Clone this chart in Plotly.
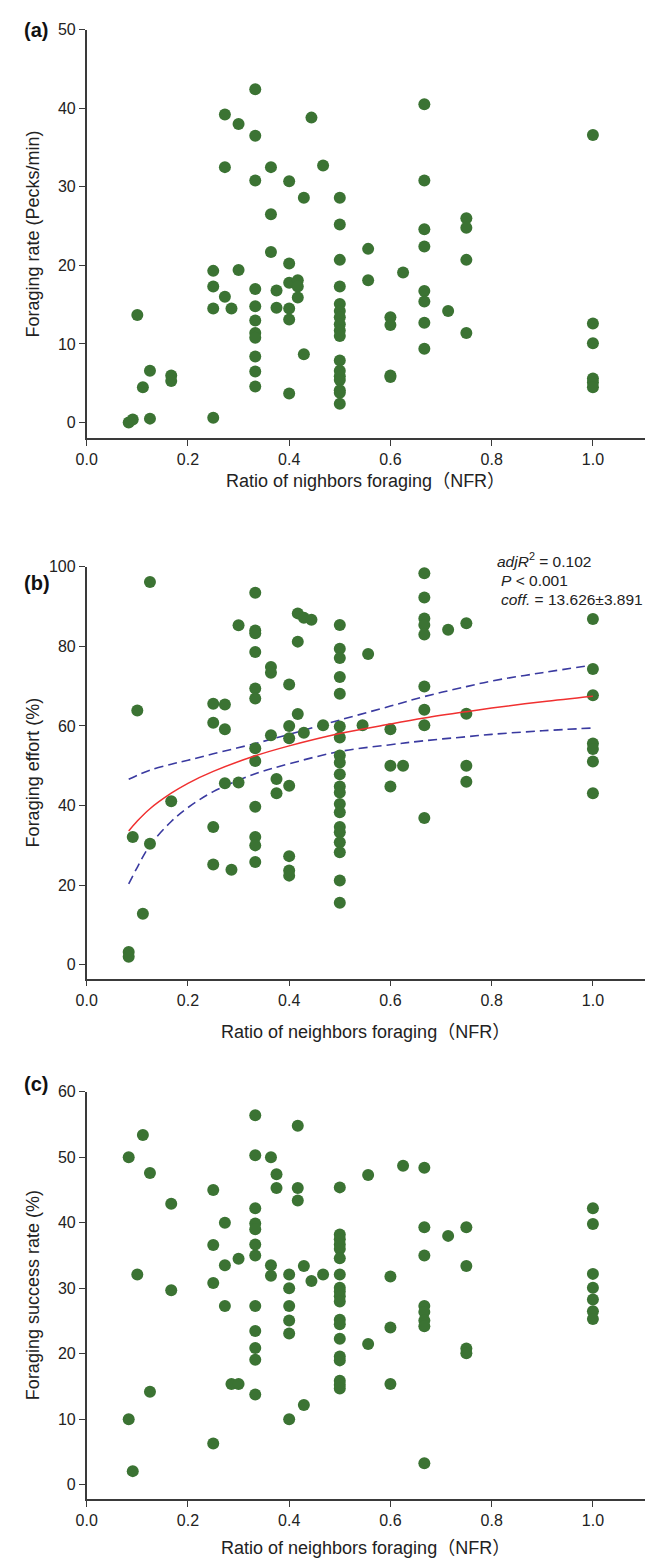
import plotly.graph_objects as go

W, H = 645, 1558

# ---------------- data ----------------
# Panel (a): foraging rate (pecks/min) vs NFR
a_x = [0.333, 0.667, 0.273, 0.3, 0.444, 0.333, 1.0,
       0.273, 0.364, 0.333, 0.4, 0.467, 0.667,
       0.429, 0.5, 0.364, 0.5, 0.667, 0.75, 0.75,
       0.364, 0.4, 0.5, 0.556, 0.667, 0.75,
       0.25, 0.3, 0.625, 0.556, 0.25, 0.273, 0.286, 0.25,
       0.333, 0.333, 0.333, 0.333, 0.333, 0.333, 0.333,
       0.375, 0.375, 0.4, 0.4, 0.4, 0.417, 0.417, 0.417, 0.429,
       0.5, 0.5, 0.5, 0.5, 0.5, 0.5, 0.5, 0.5, 0.5,
       0.6, 0.6, 0.667, 0.667, 0.667, 0.667, 0.714, 0.75,
       1.0, 1.0, 0.1, 0.125, 0.167, 0.6,
       0.083, 0.091, 0.111, 0.125, 0.167, 0.25, 0.333, 0.4,
       0.5, 0.5, 0.5, 0.5, 0.5, 0.6, 1.0, 1.0, 1.0]
a_y = [42.4, 40.5, 39.2, 38.0, 38.8, 36.5, 36.6,
       32.5, 32.5, 30.8, 30.7, 32.7, 30.8,
       28.6, 28.6, 26.5, 25.2, 24.6, 26.0, 24.8,
       21.7, 20.25, 20.7, 22.1, 22.4, 20.7,
       19.3, 19.4, 19.1, 18.1, 17.3, 16.0, 14.5, 14.5,
       17.0, 14.8, 13.0, 11.4, 10.8, 8.4, 6.5,
       16.8, 14.6, 17.8, 14.5, 13.1, 18.1, 17.3, 15.9, 8.7,
       17.3, 15.1, 14.2, 13.4, 12.5, 11.7, 11.0, 7.9, 6.6,
       13.4, 12.4, 16.75, 15.4, 12.7, 9.4, 14.2, 11.4,
       12.6, 10.1, 13.7, 6.6, 6.0, 6.0,
       0.0, 0.4, 4.5, 0.5, 5.3, 0.6, 4.6, 3.7,
       5.9, 5.4, 4.1, 3.8, 2.4, 5.8, 5.6, 5.1, 4.5]

# Panel (b): foraging effort (%) vs NFR
b_x = [0.125, 0.333, 0.667, 0.667,
       0.3, 0.333, 0.333, 0.333, 0.417, 0.429, 0.444, 0.417,
       0.5, 0.5, 0.5, 0.5, 0.5, 0.556,
       0.667, 0.667, 0.667, 0.667, 0.667, 0.667, 0.714, 0.75, 0.75,
       1.0, 1.0, 1.0, 1.0, 1.0, 1.0, 1.0,
       0.364, 0.364, 0.333, 0.333, 0.4, 0.417,
       0.25, 0.273, 0.25, 0.273, 0.1,
       0.333, 0.364, 0.4, 0.4, 0.429, 0.467,
       0.5, 0.5, 0.545, 0.6, 0.333,
       0.5, 0.5, 0.5, 0.5, 0.5, 0.5, 0.5, 0.5, 0.5, 0.5, 0.5, 0.5, 0.5,
       0.6, 0.625, 0.75, 0.75, 0.6, 0.667,
       0.375, 0.375, 0.4, 0.273, 0.3,
       0.333, 0.333, 0.333, 0.333,
       0.25, 0.25, 0.286, 0.4, 0.4, 0.4,
       0.167, 0.091, 0.125, 0.111, 0.083, 0.083]
b_y = [96.2, 93.5, 98.4, 92.3,
       85.3, 84.0, 83.3, 78.6, 88.3, 87.2, 86.7, 81.2,
       85.4, 79.4, 77.1, 72.3, 68.1, 78.1,
       87.0, 85.4, 83.0, 69.9, 64.1, 60.2, 84.2, 85.8, 63.1,
       86.9, 74.3, 67.7, 55.6, 54.2, 51.1, 43.1,
       74.8, 73.4, 69.4, 66.9, 70.4, 63.0,
       65.6, 65.4, 60.8, 59.2, 63.9,
       54.4, 57.7, 60.0, 56.9, 58.3, 60.2,
       59.9, 57.1, 60.2, 59.2, 51.2,
       52.6, 50.8, 47.9, 44.8, 43.3, 40.4, 38.3, 34.6, 33.3, 30.8, 28.3, 21.2, 15.6,
       50.0, 50.0, 50.0, 46.0, 44.8, 36.9,
       46.7, 43.1, 45.0, 45.6, 45.8,
       39.7, 32.1, 30.0, 25.8,
       34.6, 25.2, 23.9, 27.3, 23.7, 22.4,
       41.1, 32.1, 30.4, 12.8, 3.2, 2.0]

# Fitted curve and confidence limits in panel (b)
fit_x = [0.083, 0.1, 0.125, 0.167, 0.2, 0.25, 0.333, 0.4, 0.5, 0.6, 0.667, 0.75, 0.8, 0.9, 1.0]
fit_y = [33.6, 36.1, 39.2, 43.1, 45.6, 48.6, 52.5, 55.0, 58.1, 60.5, 62.0, 63.6, 64.5, 66.1, 67.5]
ci_up = [46.6, 47.6, 48.9, 50.4, 51.4, 53.0, 55.6, 57.9, 61.5, 65.0, 67.4, 69.9, 71.3, 73.4, 75.3]
ci_lo = [20.3, 24.5, 30.0, 36.0, 39.5, 43.5, 48.0, 50.5, 53.6, 55.3, 56.3, 57.3, 57.9, 58.8, 59.5]

# Panel (c): foraging success rate (%) vs NFR
c_x = [0.333, 0.417, 0.111, 0.083, 0.333, 0.364,
       0.125, 0.375, 0.556, 0.625, 0.667,
       0.25, 0.375, 0.417, 0.5, 0.417, 0.167,
       0.333, 0.333, 0.333, 0.273, 0.333, 0.333,
       0.25, 0.3, 0.273, 0.364, 0.364, 0.4, 0.429, 0.444, 0.467,
       0.5, 0.5, 0.5, 0.5, 0.5, 0.5, 0.5, 0.5, 0.5, 0.5,
       0.6, 0.667, 0.667, 0.714, 0.75, 0.75,
       1.0, 1.0, 1.0, 1.0, 1.0, 1.0, 1.0,
       0.1, 0.25, 0.167, 0.4, 0.273, 0.333, 0.4, 0.667,
       0.667, 0.667, 0.667, 0.333, 0.4, 0.4,
       0.5, 0.5, 0.5, 0.5, 0.5, 0.5, 0.5, 0.5,
       0.333, 0.333, 0.333, 0.556, 0.6, 0.6,
       0.75, 0.75, 0.286, 0.3, 0.125, 0.083, 0.4, 0.429,
       0.25, 0.091, 0.667]
c_y = [56.4, 54.8, 53.4, 50.0, 50.3, 50.0,
       47.6, 47.4, 47.3, 48.7, 48.4,
       45.0, 45.3, 45.3, 45.4, 43.4, 42.9,
       42.2, 39.9, 39.0, 40.0, 36.7, 35.0,
       36.6, 34.5, 33.5, 33.5, 31.9, 32.1, 33.4, 31.1, 32.1,
       38.2, 37.5, 36.7, 36.0, 34.6, 32.1, 30.1, 29.5, 28.8, 28.0,
       31.8, 39.3, 35.0, 38.0, 39.3, 33.4,
       42.2, 39.8, 32.2, 30.1, 28.3, 26.5, 25.3,
       32.1, 30.8, 29.7, 30.0, 27.3, 27.3, 27.3, 27.3,
       26.4, 25.1, 24.2, 23.5, 25.1, 23.1,
       25.2, 24.5, 22.3, 19.6, 19.0, 15.9, 15.3, 14.7,
       20.9, 19.1, 13.8, 21.5, 24.0, 15.4,
       20.8, 20.1, 15.4, 15.4, 14.2, 10.0, 10.0, 12.2,
       6.3, 2.1, 3.3]

x_ticks = [0.0, 0.2, 0.4, 0.6, 0.8, 1.0]
x_tick_text = ["0.0", "0.2", "0.4", "0.6", "0.8", "1.0"]

panel_letters = ["(a)", "(b)", "(c)"]
y_titles = ["Foraging rate (Pecks/min)", "Foraging effort (%)", "Foraging success rate (%)"]
x_titles = ["Ratio of nighbors foraging（NFR）", "Ratio of neighbors foraging（NFR）",
            "Ratio of neighbors foraging（NFR）"]
stats_lines = ["<i>adjR</i><sup>2</sup> = 0.102", "<i>P</i> < 0.001", "<i>coff.</i> = 13.626±3.891"]

# ---------------- styling ----------------
GREEN = "#3b7333"
FONT = "Arial, Liberation Sans, Noto Sans CJK SC, sans-serif"
AXC = "#3a3a3a"
TXT = "#222222"

# pixel geometry of the three plot areas (top, bottom) and ranges
left_px, right_px = 77, 645
panels = [
    dict(top=21.7, bottom=432.5, yr=[-2.0, 50], dtick=10),
    dict(top=561.7, bottom=975.7, yr=[-3.5, 100], dtick=20),
    dict(top=1089.3, bottom=1499.0, yr=[-2.2, 60], dtick=10),
]
x_max = (right_px - left_px) / 515.0


def px(xp):
    return xp / W


def py(yp):
    return 1 - yp / H


fig = go.Figure()
data_sets = [(a_x, a_y), (b_x, b_y), (c_x, c_y)]
for i, (xs, ys) in enumerate(data_sets):
    n = i + 1
    xa = "x" if n == 1 else f"x{n}"
    ya = "y" if n == 1 else f"y{n}"
    if n == 2:
        for band in (ci_up, ci_lo):
            fig.add_trace(go.Scatter(x=fit_x, y=band, mode="lines", xaxis=xa, yaxis=ya,
                                     line=dict(color="#3a3aa0", width=1.6, dash="9px,5px",
                                               shape="spline"),
                                     showlegend=False, hoverinfo="skip"))
    fig.add_trace(go.Scatter(x=xs, y=ys, mode="markers", xaxis=xa, yaxis=ya,
                             marker=dict(color=GREEN, size=12, line=dict(width=0)),
                             showlegend=False))
    if n == 2:
        fig.add_trace(go.Scatter(x=fit_x, y=fit_y, mode="lines", xaxis=xa, yaxis=ya,
                                 line=dict(color="#f03030", width=1.5, shape="spline"),
                                 showlegend=False, hoverinfo="skip"))

layout = dict(
    width=W, height=H, margin=dict(l=0, r=0, t=0, b=0),
    paper_bgcolor="white", plot_bgcolor="white",
    font=dict(family=FONT, color=TXT, size=15),
)
for i, p in enumerate(panels):
    n = i + 1
    xkey = "xaxis" if n == 1 else f"xaxis{n}"
    ykey = "yaxis" if n == 1 else f"yaxis{n}"
    yanchor = "y" if n == 1 else f"y{n}"
    xanchor = "x" if n == 1 else f"x{n}"
    layout[xkey] = dict(
        domain=[px(left_px), 1.0], range=[0, x_max], anchor=yanchor,
        tickvals=x_ticks, ticktext=x_tick_text, ticks="outside", ticklen=6, tickwidth=1.3,
        tickcolor=AXC, showline=True, linecolor=AXC, linewidth=1.6, showgrid=False,
        zeroline=False, tickfont=dict(size=16, color=TXT, family=FONT),
    )
    layout[ykey] = dict(
        domain=[py(p["bottom"]), py(p["top"])], range=p["yr"], anchor=xanchor,
        tick0=0, dtick=p["dtick"], ticks="outside", ticklen=6, tickwidth=1.3,
        tickcolor=AXC, showline=True, linecolor=AXC, linewidth=1.6, showgrid=False,
        zeroline=False, tickfont=dict(size=16, color=TXT, family=FONT),
    )
fig.update_layout(**layout)

annotations = []
x_title_y = [475, 1029, 1548]
letter_y = [22, 578, 1082]
for i, p in enumerate(panels):
    annotations.append(dict(text=x_titles[i], x=px((left_px + right_px) / 2), y=py(x_title_y[i]),
                            xref="paper", yref="paper", showarrow=False, xanchor="center",
                            yanchor="middle", font=dict(size=18, family=FONT, color=TXT)))
    annotations.append(dict(text=y_titles[i], x=px(22), y=py((p["top"] + p["bottom"]) / 2),
                            xref="paper", yref="paper", showarrow=False, textangle=-90,
                            xanchor="center", yanchor="middle",
                            font=dict(size=18, family=FONT, color=TXT)))
    annotations.append(dict(text="<b>" + panel_letters[i] + "</b>", x=px(11), y=py(letter_y[i]),
                            xref="paper", yref="paper", showarrow=False, xanchor="left",
                            yanchor="middle", font=dict(size=20, family=FONT, color="#111111")))
stats_y = [555, 575, 595]
stats_x = [492, 496, 496]
for t, yy, xx in zip(stats_lines, stats_y, stats_x):
    annotations.append(dict(text=t, x=px(xx), y=py(yy), xref="paper", yref="paper",
                            showarrow=False, xanchor="left", yanchor="middle",
                            font=dict(size=15.5, family=FONT, color=TXT)))
fig.update_layout(annotations=annotations)

fig.write_html("out.html")
